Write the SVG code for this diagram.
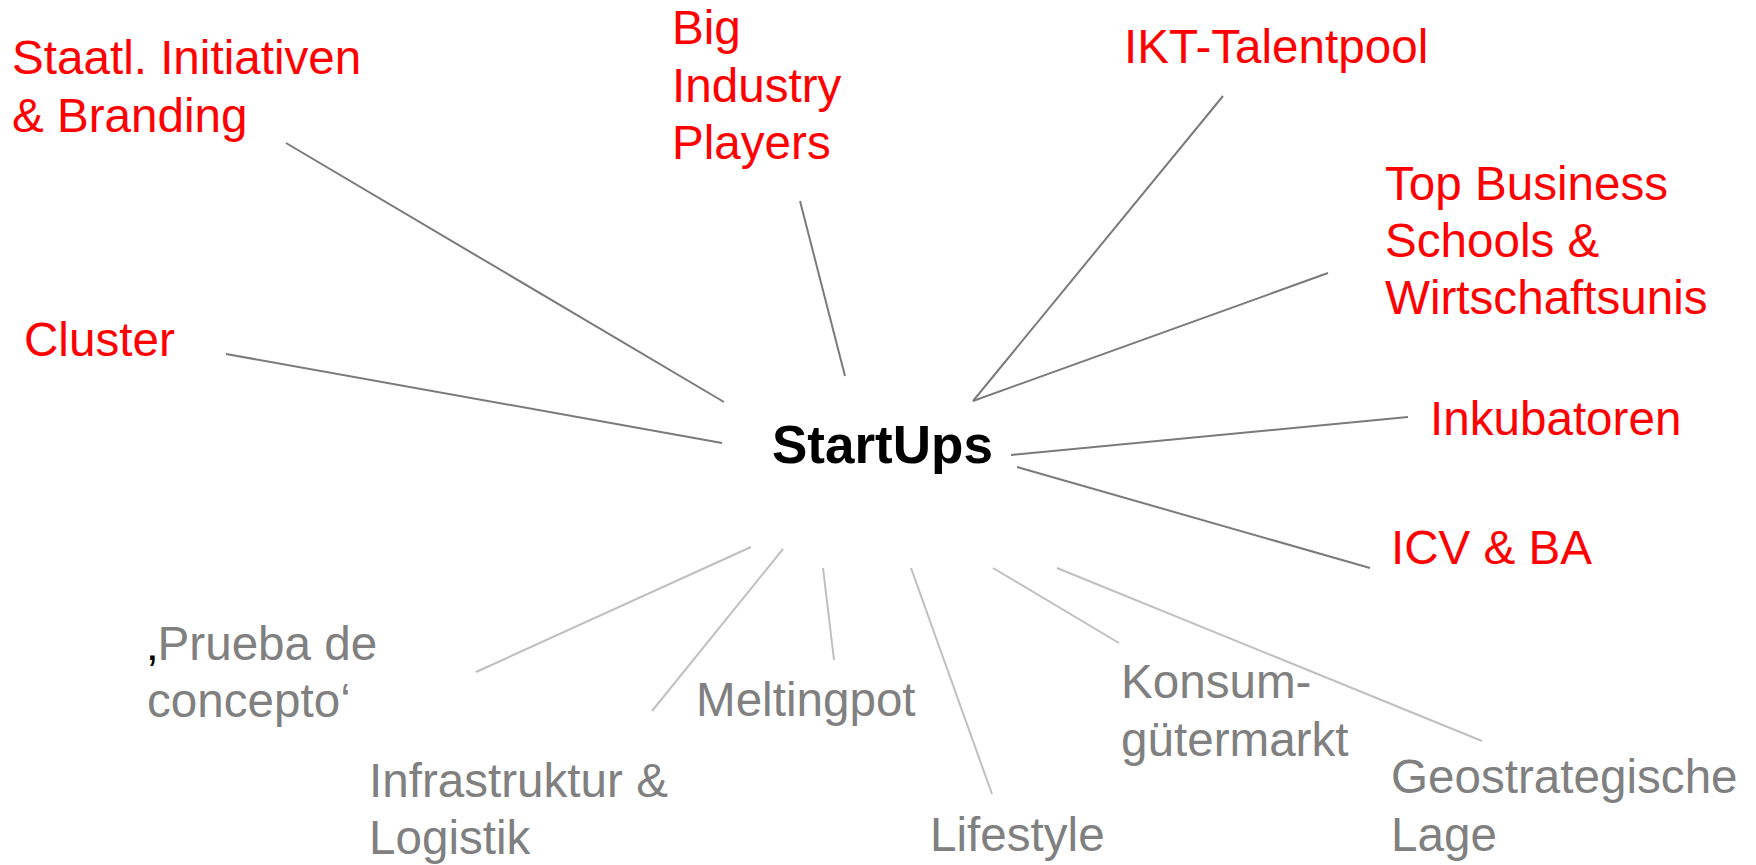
<svg xmlns="http://www.w3.org/2000/svg" width="1756" height="865" viewBox="0 0 1756 865">
<style>
text{font-family:"Liberation Sans",Arial,sans-serif;font-size:47.6px}
.red{fill:#ff0000}
.gray{fill:#808080}
.center{fill:#000;font-weight:bold;font-size:53px}
.dk{stroke:#7a7a7a;stroke-width:2;fill:none}
.lt{stroke:#bfbfbf;stroke-width:2;fill:none}
</style>
<rect width="1756" height="865" fill="#fff"/>
<g id="connectors">
<line class="dk" x1="286" y1="143" x2="724" y2="402"/>
<line class="dk" x1="226" y1="354" x2="722" y2="443"/>
<line class="dk" x1="800" y1="201" x2="845" y2="376"/>
<line class="dk" x1="1223" y1="96" x2="973" y2="401"/>
<line class="dk" x1="1328" y1="273" x2="973" y2="401"/>
<line class="dk" x1="1408" y1="417" x2="1011" y2="455"/>
<line class="dk" x1="1017" y1="467" x2="1370" y2="568"/>
<line class="lt" x1="751" y1="547" x2="476" y2="672"/>
<line class="lt" x1="783" y1="549" x2="652" y2="711"/>
<line class="lt" x1="823" y1="568" x2="834" y2="660"/>
<line class="lt" x1="911" y1="568" x2="992" y2="794"/>
<line class="lt" x1="993" y1="568" x2="1119" y2="643"/>
<line class="lt" x1="1057" y1="568" x2="1482" y2="741"/>
</g>
<g id="startups"><text class="center" x="772" y="463">StartUps</text></g>
<g id="staatl"><text class="red" x="12" y="74">Staatl. Initiativen</text><text class="red" x="12" y="132">&amp; Branding</text></g>
<g id="big"><text class="red" x="672" y="44">Big</text><text class="red" x="672" y="102">Industry</text><text class="red" x="672" y="159">Players</text></g>
<g id="cluster"><text class="red" x="24" y="356">Cluster</text></g>
<g id="ikt"><text class="red" x="1124" y="63">IKT-Talentpool</text></g>
<g id="topbusiness"><text class="red" x="1385" y="200">Top Business</text><text class="red" x="1385" y="257">Schools &amp;</text><text class="red" x="1385" y="314">Wirtschaftsunis</text></g>
<g id="inkubatoren"><text class="red" x="1430" y="435">Inkubatoren</text></g>
<g id="icv"><text class="red" x="1391" y="564">ICV &amp; BA</text></g>
<g id="prueba"><text class="gray" x="147" y="660"><tspan fill="#000">‚</tspan>Prueba de</text><text class="gray" x="147" y="717">concepto‘</text></g>
<g id="infrastruktur"><text class="gray" x="369" y="797">Infrastruktur &amp;</text><text class="gray" x="369" y="854">Logistik</text></g>
<g id="meltingpot"><text class="gray" x="696" y="716">Meltingpot</text></g>
<g id="lifestyle"><text class="gray" x="930" y="851">Lifestyle</text></g>
<g id="konsum"><text class="gray" x="1121" y="698">Konsum-</text><text class="gray" x="1121" y="756">gütermarkt</text></g>
<g id="geo"><text class="gray" x="1391" y="793">Geostrategische</text><text class="gray" x="1391" y="851">Lage</text></g>
</svg>
